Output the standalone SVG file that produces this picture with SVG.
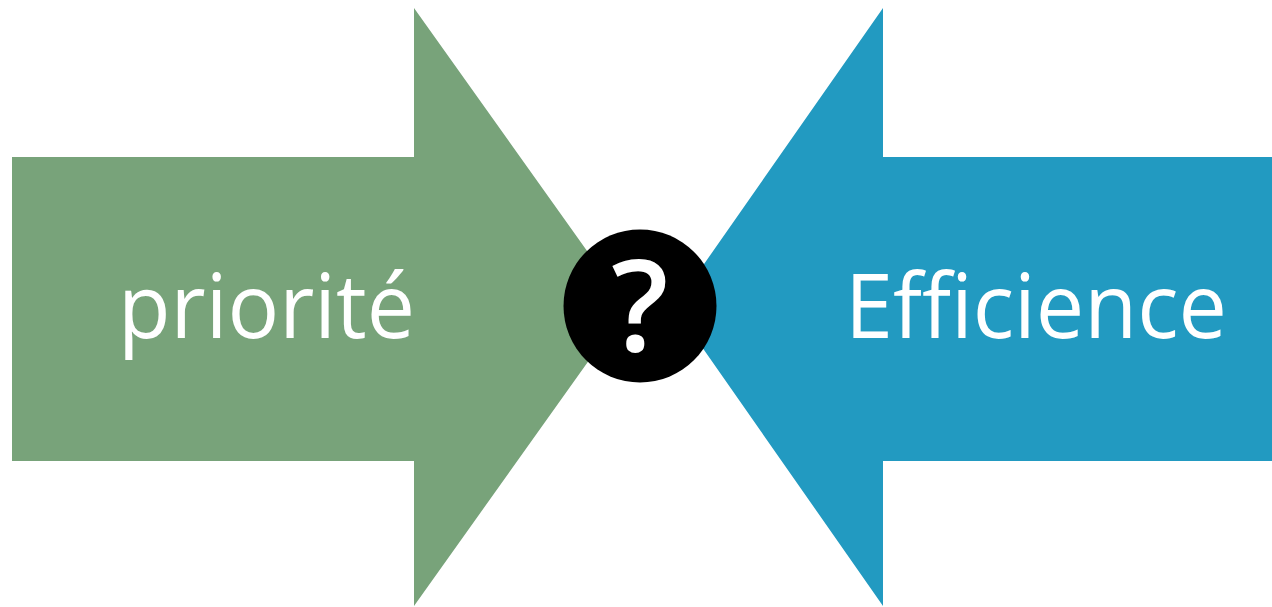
<svg xmlns="http://www.w3.org/2000/svg" width="1272" height="607" viewBox="0 0 1272 607">
<style>
.lbl{font-family:"Open Sans","Liberation Sans",sans-serif;fill:#fff;font-size:90px}
</style>
<rect width="1272" height="607" fill="#fff"/>
<g id="arrow-priorite">
<polygon points="12,157 414,157 414,8 627,307 414,606 414,461 12,461" fill="#78A37A"/>
<text class="lbl" x="118" y="338" textLength="297" lengthAdjust="spacingAndGlyphs">priorité</text>
</g>
<g id="arrow-efficience">
<polygon points="1272,157 883,157 883,8 674,307 883,606 883,461 1272,461" fill="#229AC1"/>
<text class="lbl" x="845" y="338" textLength="382" lengthAdjust="spacingAndGlyphs">Efficience</text>
</g>
<g id="question">
<circle cx="640" cy="306" r="76.5" fill="#000"/>
<text x="640" y="351" text-anchor="middle" font-family="Open Sans,Liberation Sans,sans-serif" font-weight="600" font-size="126" fill="#fff">?</text>
</g>
<g id="connectors"/>
</svg>
